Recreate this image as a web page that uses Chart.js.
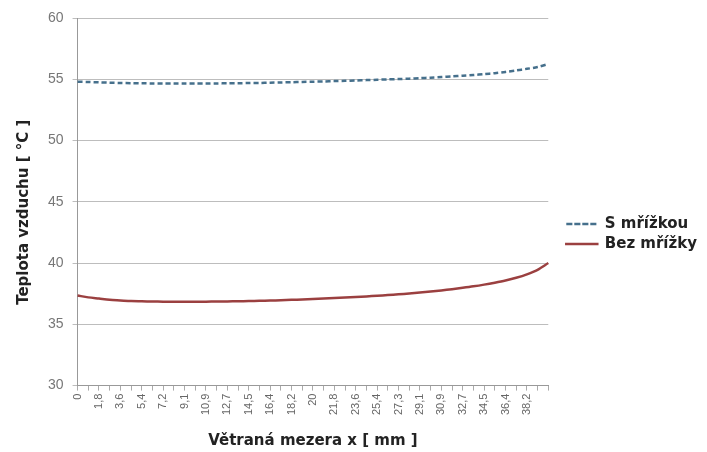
<!DOCTYPE html>
<html>
<head>
<meta charset="utf-8">
<title>Teplota vzduchu</title>
<script src="https://cdn.jsdelivr.net/npm/chart.js@4.4.0/dist/chart.umd.min.js"></script>
<style>
  body { margin: 0; background: #fff; }
  canvas { display: block; }
</style>
</head>
<body>
<canvas id="chart" width="707" height="452"></canvas>
<script>
// x positions in the vented gap [mm], every other one is printed on the axis
var mezera = ["0","0,9","1,8","2,7","3,6","4,5","5,4","6,4","7,2","8,2","9,1","10","10,9","11,8",
  "12,7","13,6","14,5","15,5","16,4","17,3","18,2","19,1","20","20,9","21,8","22,7","23,6","24,5",
  "25,4","26,4","27,3","28,2","29,1","30","30,9","31,8","32,7","33,6","34,5","35,5","36,4","37,3",
  "38,2","39,1","40"];

var s_mrizkou = [54.8,54.78,54.75,54.72,54.7,54.68,54.67,54.66,54.65,54.65,54.65,54.65,54.65,54.66,
  54.67,54.68,54.69,54.7,54.72,54.74,54.76,54.78,54.8,54.82,54.85,54.87,54.9,54.93,54.96,54.99,
  55.02,55.05,55.09,55.13,55.18,55.23,55.29,55.35,55.42,55.5,55.6,55.72,55.85,56.0,56.25];

var bez_mrizky = [37.35,37.2,37.1,37.0,36.95,36.9,36.88,36.86,36.85,36.85,36.85,36.85,36.85,36.86,
  36.87,36.88,36.9,36.92,36.94,36.97,37.0,37.03,37.06,37.1,37.14,37.18,37.23,37.28,37.33,37.39,
  37.45,37.52,37.6,37.68,37.77,37.87,37.98,38.1,38.24,38.4,38.58,38.8,39.08,39.45,40.0];

var font = "Arial, 'Liberation Sans', sans-serif";
var boldFont = "'DejaVu Sans', Verdana, sans-serif";

// leave an empty strip between the plot and the legend
var legendGap = 13;
var legendGapPlugin = {
  id: 'legendGap',
  beforeLayout: function(chart) {
    var lg = chart.legend;
    if (lg && !lg._gapDone) {
      var fit = lg.fit;
      lg.fit = function() { fit.call(this); this.width += legendGap; };
      lg._gapDone = true;
    }
  },
  afterLayout: function(chart) {
    if (chart.legend) chart.legend.left += legendGap;
  }
};

var ctx = document.getElementById("chart");
var myChart = new Chart(ctx, {
  type: 'line',
  data: {
    labels: mezera,
    datasets: [
      {
        label: "S mřížkou",
        data: s_mrizkou,
        borderColor: "#46708c",
        backgroundColor: "rgba(0,0,0,0)",
        borderWidth: 2.5,
        borderDash: [5, 3],
        pointRadius: 0,
        tension: 0.3,
        fill: false
      },
      {
        label: "Bez mřížky",
        data: bez_mrizky,
        borderColor: "#9b4040",
        backgroundColor: "rgba(0,0,0,0)",
        borderWidth: 2.5,
        pointRadius: 0,
        tension: 0.3,
        fill: false
      }
    ]
  },
  plugins: [legendGapPlugin],
  options: {
    responsive: false,
    animation: false,
    layout: { padding: { top: 18, right: 0, left: 6, bottom: 2 } },
    plugins: {
      tooltip: { enabled: false },
      legend: {
        position: 'right',
        labels: {
          boxWidth: 31,
          boxHeight: 0.1,
          color: "#222",
          font: { family: boldFont, size: 15, weight: 'bold' },
          padding: 5
        }
      }
    },
    scales: {
      x: {
        ticks: {
          autoSkip: false,
          minRotation: 90,
          maxRotation: 90,
          color: "#666",
          font: { family: font, size: 11 },
          padding: 3,
          callback: function(value, index) {
            if (index % 2 == 1 || index == mezera.length - 1) return '';
            return mezera[index];
          }
        },
        grid: { drawOnChartArea: false, drawTicks: true, tickLength: 5, color: "#aaa" },
        border: { color: "#999" },
        title: {
          display: true,
          text: "Větraná mezera x [ mm ]",
          color: "#222",
          font: { family: boldFont, size: 15, weight: 'bold' },
          padding: { top: 14, bottom: 0 }
        }
      },
      y: {
        min: 30,
        max: 60,
        ticks: {
          stepSize: 5,
          color: "#777",
          font: { family: font, size: 14 },
          padding: 9
        },
        grid: { color: "#bdbdbd", tickLength: 5 },
        border: { color: "#999" },
        title: {
          display: true,
          text: "Teplota vzduchu [ °C ]\u00a0\u00a0\u00a0\u00a0",
          color: "#222",
          font: { family: boldFont, size: 15, weight: 'bold' },
          padding: { top: 9, bottom: 6 }
        }
      }
    }
  }
});
</script>
</body>
</html>
